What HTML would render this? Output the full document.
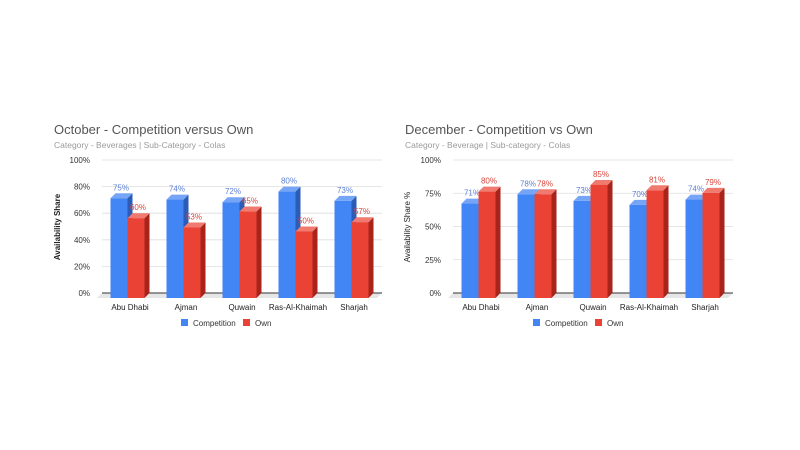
<!DOCTYPE html>
<html><head><meta charset="utf-8"><style>
html,body{margin:0;padding:0;background:#fff;width:800px;height:450px;overflow:hidden}
svg{font-family:"Liberation Sans",Arial,sans-serif;display:block}
</style></head><body>
<svg id="s" width="800" height="450" viewBox="0 0 800 450"></svg>
<script>
const categories = ["Abu Dhabi","Ajman","Quwain","Ras-Al-Khaimah","Sharjah"];
const octCompetition = [75,74,72,80,73];
const octOwn = [60,53,65,50,57];
const decCompetition = [71,78,73,70,74];
const decOwn = [80,78,85,81,79];
const octTicks = ["0%","20%","40%","60%","80%","100%"];
const decTicks = ["0%","25%","50%","75%","100%"];
const legendLabels = ["Competition","Own"];

const NS="http://www.w3.org/2000/svg";
const svg=document.getElementById('s');
function mk(tag,attrs,parent,text){const e=document.createElementNS(NS,tag);for(const k in attrs)e.setAttribute(k,attrs[k]);if(text!==undefined)e.textContent=text;(parent||svg).appendChild(e);return e;}

const COL={blue:{f:"#4285f4",s:"#2b5cb8",t:"#76a5f7",lab:"#5b7fd6"},red:{f:"#ea4335",s:"#a8231a",t:"#f07a6f",lab:"#d9453b"}};

function chart(cfg){
  const g=mk('g',{});
  
  
  const x0=cfg.x0,x1=cfg.x0+280,yTop=160,yBot=293,dx=5,dy=5;
  const yScale=v=>yBot-(v/100)*(yBot-yTop);
  const t=mk('text',{x:cfg.tx,y:134,'font-size':13,fill:'#555'},g,cfg.title);
  
  const st=mk('text',{x:cfg.tx,y:148,'font-size':8.5,fill:'#9a9a9a'},g,cfg.subtitle);
  
  // floor
  const fl=mk('polygon',{points:`${x0-dx},${yBot+dy} ${x1-dx},${yBot+dy} ${x1},${yBot} ${x0},${yBot}`,fill:'#e6e6e6'},g);
  
  const ticks=cfg.ticks;
  ticks.forEach((lab,i)=>{
    const v=i*100/(ticks.length-1);const y=yScale(v);
    const gl=mk('line',{x1:x0,x2:x1,y1:y,y2:y,stroke:i==0?'#333':'#ddd','stroke-width':i==0?1:0.8},g);
    
    const tl=mk('text',{x:x0-12,y:y+3,'font-size':8,fill:'#333','text-anchor':'end'},g,lab);
    
  });
  const yt=mk('text',{transform:`translate(${cfg.yx},227) rotate(-90)`,'font-size':8,fill:'#222','font-weight':cfg.bold?'bold':'normal','text-anchor':'middle'},g,cfg.ytitle);
  
  const step=280/categories.length,bw=17;
  const series=[[cfg.comp,COL.blue,'competition'],[cfg.own,COL.red,'own']];
  categories.forEach((c,i)=>{
    const cx=x0+step*(i+0.5);
    series.forEach(([vals,col,nm],j)=>{
      const v=vals[i];
      const bx=cx-bw-dx/2+j*bw, top=yScale(v)+dy, bot=yBot+dy;
      const bg=mk('g',{},g);
      
      
      mk('polygon',{points:`${bx+bw},${top} ${bx+bw+dx},${top-dy} ${bx+bw+dx},${bot-dy} ${bx+bw},${bot}`,fill:col.s},bg);
      mk('polygon',{points:`${bx},${top} ${bx+dx},${top-dy} ${bx+bw+dx},${top-dy} ${bx+bw},${top}`,fill:col.t},bg);
      mk('rect',{x:bx,y:top,width:bw,height:bot-top,fill:col.f},bg);
      const vl=mk('text',{x:bx+bw/2+2,y:top-8,'font-size':8,fill:col.lab,'text-anchor':'middle'},g,v+'%');
      
    });
    const cl=mk('text',{x:cx,y:310,'font-size':8,fill:'#222','text-anchor':'middle'},g,c);
    
  });
  // legend
  [[COL.blue.f,legendLabels[0],cfg.lx],[COL.red.f,legendLabels[1],cfg.lx+62]].forEach(([f,l,x])=>{
    const lg=mk('g',{},g);
    
    mk('rect',{x:x,y:319,width:7,height:7,fill:f},lg);
    mk('text',{x:x+12,y:326,'font-size':8,fill:'#333'},lg,l);
  });
}
chart({name:'october-chart',x0:102,tx:54,title:'October - Competition versus Own',subtitle:'Category - Beverages | Sub-Category - Colas',ticks:octTicks,comp:octCompetition,own:octOwn,yx:60,bold:true,ytitle:'Availability Share',lx:181});
chart({name:'december-chart',x0:453,tx:405,title:'December - Competition vs Own',subtitle:'Category - Beverage | Sub-category - Colas',ticks:decTicks,comp:decCompetition,own:decOwn,yx:410,bold:false,ytitle:'Availability Share %',lx:533});
</script>
</body></html>
